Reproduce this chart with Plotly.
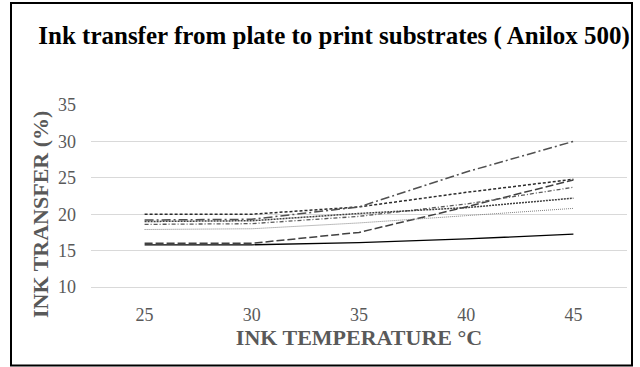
import plotly.graph_objects as go

temps = ["25", "30", "35", "40", "45"]
y_ticks = [10, 15, 20, 25, 30, 35]

s_solid = [15.8, 15.8, 16.1, 16.6, 17.25]
s_longdash = [16.0, 16.0, 17.5, 21.0, 24.7]
s_dash = [20.0, 20.0, 21.0, 23.0, 24.8]
s_longdashdot = [19.2, 19.3, 21.0, 25.8, 30.0]
s_dashdot = [18.6, 18.7, 19.7, 21.4, 23.7]
s_squaredot = [19.0, 19.1, 20.1, 20.9, 22.2]
s_dot = [17.9, 18.0, 18.8, 19.8, 20.8]

series = [
    ("Series 1", s_solid, "solid", "#000000", 1.3),
    ("Series 2", s_longdash, "8px,3px", "#404040", 1.5),
    ("Series 3", s_dash, "3px,2px", "#2b2b2b", 1.5),
    ("Series 4", s_longdashdot, "9px,3px,2px,3px", "#505050", 1.5),
    ("Series 5", s_dashdot, "4px,2px,1px,2px", "#5a5a5a", 1.3),
    ("Series 6", s_squaredot, "2px,1px", "#404040", 1.5),
    ("Series 7", s_dot, "1px,1px", "#7f7f7f", 1.0),
]

fig = go.Figure()
for name, vals, dash, color, w in series:
    fig.add_trace(go.Scatter(x=temps, y=vals, mode="lines", name=name,
                             line=dict(dash=dash, color=color, width=w)))

W0, H0 = 536, 182
fig.update_layout(
    width=640, height=367,
    margin=dict(l=91, r=13, t=105, b=80),
    paper_bgcolor="white", plot_bgcolor="white",
    showlegend=False,
    title=dict(text="<b>Ink transfer from plate to print substrates ( Anilox 500)</b>",
               x=(38 + 630) / 2 / 640, xanchor="center", y=1 - 35 / 367, yanchor="middle",
               font=dict(family="Liberation Serif", size=25, color="#000000")),
    font=dict(family="Liberation Serif", color="#595959"),
    xaxis=dict(type="category", range=[-0.5, 4.5], showgrid=False,
               showline=True, linecolor="#d9d9d9", linewidth=1,
               ticks="", ticklabelstandoff=11,
               tickfont=dict(size=18, color="#595959"),
               title=dict(text="<b>INK TEMPERATURE °C</b>", standoff=4,
                          font=dict(size=22, color="#595959"))),
    yaxis=dict(range=[10, 35], tickvals=y_ticks, showgrid=True,
               gridcolor="#d9d9d9", gridwidth=1, zeroline=False,
               showline=False, ticks="", ticklabelstandoff=14,
               tickfont=dict(size=18, color="#595959")),
    annotations=[dict(text="<b>INK TRANSFER (%)</b>", textangle=-90,
                      xref="paper", yref="paper",
                      x=(40 - 91) / W0, y=(287 - 215) / H0,
                      xanchor="center", yanchor="middle", showarrow=False,
                      font=dict(family="Liberation Serif", size=22, color="#595959"))],
    shapes=[dict(type="rect", xref="paper", yref="paper",
                 x0=(11 - 91) / W0, x1=(632 - 91) / W0,
                 y0=(287 - 365.5) / H0, y1=(287 - 3) / H0,
                 line=dict(color="#000000", width=2), layer="below")],
)

fig.write_html("out.html")
